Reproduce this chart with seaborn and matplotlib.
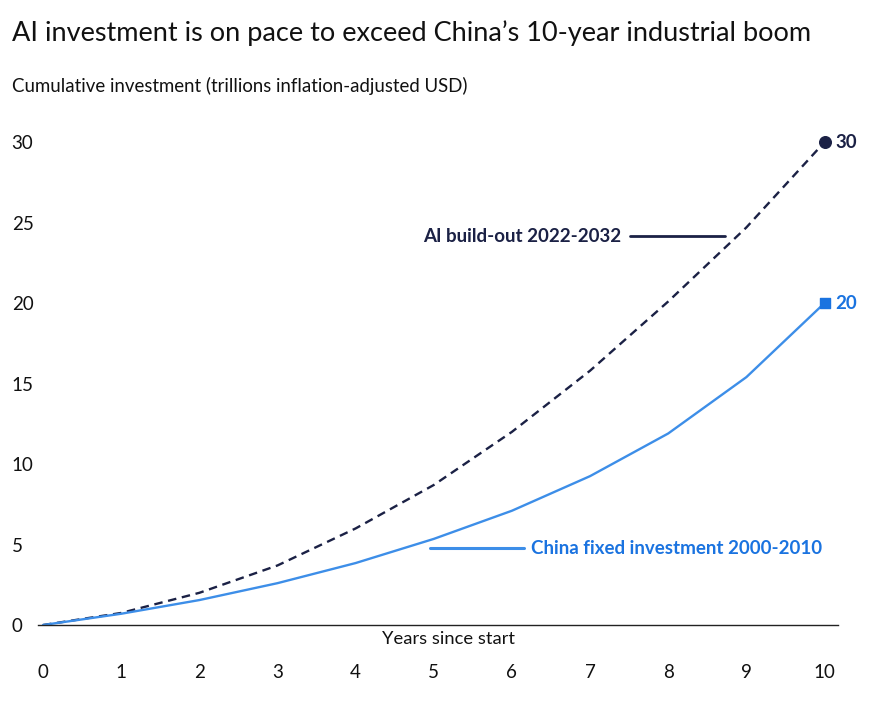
import matplotlib
matplotlib.use('Agg')
import matplotlib.pyplot as plt
import pandas as pd
import seaborn as sns

# Data
years = [0, 1, 2, 3, 4, 5, 6, 7, 8, 9, 10]
ai_buildout = [0, 0.75, 2.0, 3.7, 6.0, 8.7, 12.0, 15.8, 20.1, 24.7, 30]
china_fixed = [0, 0.7, 1.55, 2.6, 3.85, 5.35, 7.1, 9.25, 11.9, 15.4, 20]
y_ticks = [0, 5, 10, 15, 20, 25, 30]

ai_name = 'AI build-out 2022-2032'
china_name = 'China fixed investment 2000-2010'

navy = '#1b2145'
blue_line = '#3d8ee8'
blue_text = '#1a73e0'

df = pd.DataFrame({
    'year': years * 2,
    'value': ai_buildout + china_fixed,
    'series': [ai_name] * len(years) + [china_name] * len(years),
})

sns.set_theme(style='white')
plt.rcParams['font.family'] = ['Lato', 'DejaVu Sans']

fig = plt.figure(figsize=(8.76, 7.06), dpi=100)
ax = fig.add_axes([0.0434, 0.1147, 0.913, 0.7068])

sns.lineplot(data=df, x='year', y='value', hue='series', style='series',
             palette={ai_name: navy, china_name: blue_line},
             dashes={ai_name: (3.6, 2.4), china_name: ''},
             linewidth=1.7, legend=False, ax=ax)

# end markers
ax.scatter([years[-1]], [ai_buildout[-1]], s=70, color=navy, zorder=5)
ax.scatter([years[-1]], [china_fixed[-1]], s=60, marker='s', color=blue_text, zorder=5)
ax.annotate(f'{ai_buildout[-1]}', (years[-1], ai_buildout[-1]), xytext=(8, 0),
            textcoords='offset points', va='center', ha='left',
            fontsize=13.5, fontweight='bold', color=navy)
ax.annotate(f'{china_fixed[-1]}', (years[-1], china_fixed[-1]), xytext=(8, 0),
            textcoords='offset points', va='center', ha='left',
            fontsize=13.5, fontweight='bold', color=blue_text)

# series labels with leader lines
ax.plot([7.51, 8.73], [24.16, 24.16], color=navy, lw=2)
ax.text(7.40, 24.16, ai_name, ha='right', va='center', fontsize=13.5,
        fontweight='bold', color=navy)
ax.plot([4.95, 6.16], [4.78, 4.78], color=blue_line, lw=2.2)
ax.text(6.25, 4.78, china_name, ha='left', va='center', fontsize=13.5,
        fontweight='bold', color=blue_text)

ax.set_xlim(-0.064, 10.17)
ax.set_ylim(0, 31)
ax.set_xticks(years)
ax.set_yticks(y_ticks)
ax.set_xlabel('')
ax.set_ylabel('')
for s in ['top', 'right', 'left']:
    ax.spines[s].set_visible(False)
ax.spines['bottom'].set_color('#222222')
ax.spines['bottom'].set_linewidth(1.0)
ax.tick_params(axis='x', length=0, pad=28, labelsize=13.5, labelcolor='#111111')
ax.tick_params(axis='y', length=0, pad=19, labelsize=13.5, labelcolor='#111111')
for lbl in ax.get_yticklabels():
    lbl.set_horizontalalignment('left')

ax.annotate('Years since start', (5.19, 0), xytext=(0, -10),
            textcoords='offset points', ha='center', va='center',
            fontsize=13.2, color='#111111')

fig.text(12 / 876, 1 - 33 / 706, 'AI investment is on pace to exceed China\u2019s 10-year industrial boom',
         ha='left', va='center', fontsize=19.5, color='#111111')
fig.text(12 / 876, 1 - 86 / 706, 'Cumulative investment (trillions inflation-adjusted USD)',
         ha='left', va='center', fontsize=13.4, color='#111111')

fig.savefig('out.png', dpi=100)
